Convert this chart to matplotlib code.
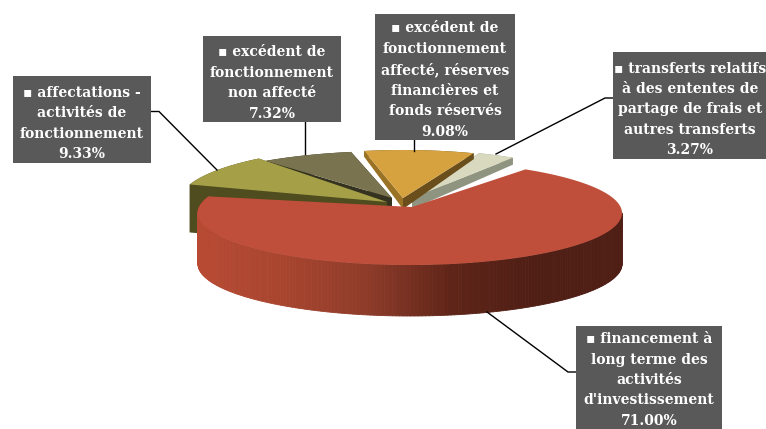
import numpy as np

import matplotlib
matplotlib.use("Agg")
import matplotlib.pyplot as plt
from matplotlib.collections import PolyCollection
from matplotlib.colors import LinearSegmentedColormap
from matplotlib.patches import Polygon, Rectangle

# values, listed clockwise from the right edge of the big slice
labels = [
    "▪ financement à\nlong terme des\nactivités\nd'investissement",
    "▪ affectations -\nactivités de\nfonctionnement",
    "▪ excédent de\nfonctionnement\nnon affecté",
    "▪ excédent de\nfonctionnement\naffecté, réserves\nfinancières et\nfonds réservés",
    "▪ transferts relatifs\nà des ententes de\npartage de frais et\nautres transferts",
]
shares = [71.00, 9.33, 7.32, 9.08, 3.27]

# slice geometry in pixels
start_angle = 57.0
tips = [(412, 207), (387, 202), (392, 198), (403, 198), (412, 198)]
centres = [(410, 213), (385, 202), (392, 198), (403, 198), (412, 198)]
radii = [(212, 52), (206, 55), (206, 47), (195, 48), (185, 48)]
depths = [51, 48, 20, 6, 7]
tip_depths = [51, 48, 20, 11, 11]
top_colors = ["#BF4F3A", "#A5A048", "#79744F", "#D5A23F", "#D9D9BF"]
wall_left = ["#8F3C2A", "#4F4C1F", "#35331F", "#6A4F1C", "#8F9480"]
wall_right = ["#8F3C2A", "#4F4C1F", "#35331F", "#9A7225", "#8F9480"]

# label boxes: x0, y0, x1, y1, the text centre y and the leader line of each
boxes = [(576, 326, 722, 429), (13, 76, 151, 163), (203, 36, 341, 122),
         (375, 14, 515, 140), (613, 52, 767, 159)]
text_y = [380, 123.5, 83, 80, 109.5]
leaders = [
    [(576, 372), (568, 372), (487, 312)],
    [(151, 111.5), (159, 111.5), (217, 170)],
    [(305, 122), (305, 154)],
    [(414, 140), (414, 151)],
    [(613, 98), (605, 98), (496, 154)],
]

side_cmap = LinearSegmentedColormap.from_list(
    "red_side", ["#B84A33", "#A8452F", "#8F3C2A", "#5F2518", "#4F1E15", "#4F1E15"])


def arc(centre, radius, a_from, a_to, n=120):
    t = np.radians(np.linspace(a_from, a_to, n))
    return np.column_stack([centre[0] + radius[0] * np.cos(t),
                            centre[1] - radius[1] * np.sin(t)])


fig = plt.figure(figsize=(7.66, 4.29), dpi=100)
ax = fig.add_axes([0, 0, 1, 1])
ax.set_xlim(0, 766)
ax.set_ylim(429, 0)
ax.axis("off")

# angles come from the shares, going clockwise
edges = start_angle - np.cumsum([0] + [s * 3.6 for s in shares])

# back slices first, the red one last since it sits in front
for i in range(len(shares) - 1, -1, -1):
    outer = arc(centres[i], radii[i], edges[i], edges[i + 1])
    tip = np.array(tips[i], dtype=float)
    down = np.array([0, depths[i]])
    tip_down = np.array([0, tip_depths[i]])

    if i == 0:
        # gradient along the rim, light on the left and dark on the right
        pts = arc(centres[i], radii[i], 0, edges[i + 1], 200)
        quads = [[pts[k], pts[k + 1], pts[k + 1] + down, pts[k] + down]
                 for k in range(len(pts) - 1)]
        pos = np.clip((pts[:-1, 0] - 197) / 425, 0, 1)
        ax.add_collection(PolyCollection(quads, facecolors=side_cmap(pos),
                                         edgecolors=side_cmap(pos), linewidths=0.6))
    else:
        rim = np.vstack([outer, outer[::-1] + down])
        ax.add_patch(Polygon(rim, closed=True, fc=wall_left[i], ec="none"))
        first, last = outer[0], outer[-1]
        ax.add_patch(Polygon([first, tip, tip + tip_down, first + down],
                             closed=True, fc=wall_right[i], ec="none"))
        ax.add_patch(Polygon([last, tip, tip + tip_down, last + down],
                             closed=True, fc=wall_left[i], ec="none"))

    ax.add_patch(Polygon(np.vstack([tip, outer]), closed=True,
                         fc=top_colors[i], ec="none"))

for line in leaders:
    xs, ys = zip(*line)
    ax.plot(xs, ys, color="black", lw=1.0, solid_joinstyle="miter")

for i in range(len(shares)):
    x0, y0, x1, y1 = boxes[i]
    ax.add_patch(Rectangle((x0, y0), x1 - x0, y1 - y0, fc="#595959", ec="none", zorder=3))
    ax.text((x0 + x1) / 2, text_y[i],
            f"{labels[i]}\n{shares[i]:.2f}%", color="white", ha="center", va="center",
            family="DejaVu Serif", fontweight="bold", fontsize=10,
            linespacing=1.58, zorder=4, clip_on=True)

fig.savefig("out.png", dpi=100, facecolor="white")
